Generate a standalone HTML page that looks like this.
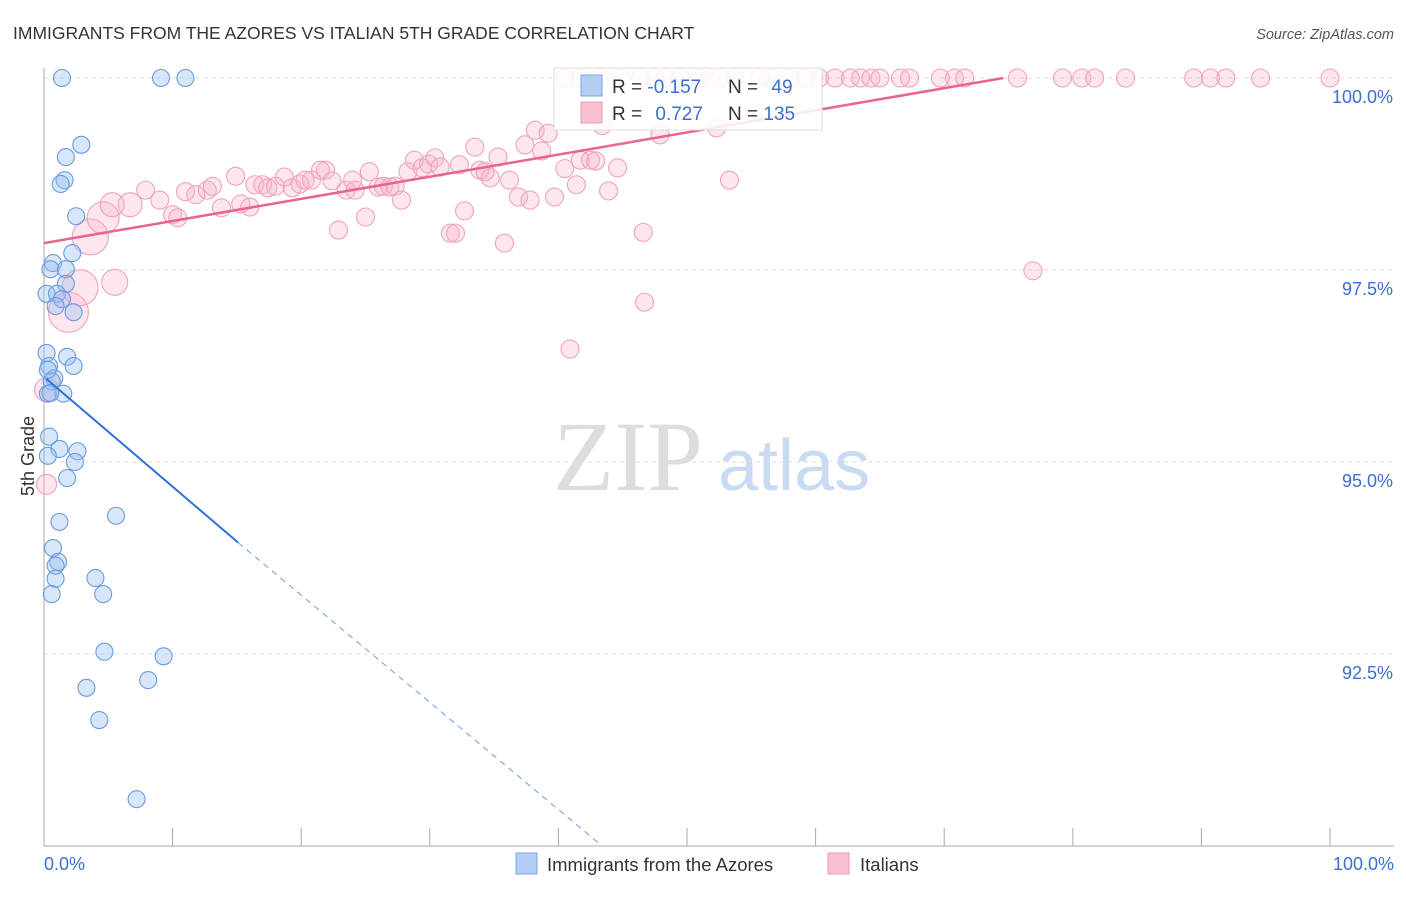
<!DOCTYPE html>
<html><head><meta charset="utf-8"><style>
body{margin:0;background:#fff;font-family:"Liberation Sans",sans-serif;}
svg text{font-family:"Liberation Sans",sans-serif;}
</style></head><body>
<svg id="c" width="1406" height="892">
<text x="13" y="39" font-size="17.5" fill="#333">IMMIGRANTS FROM THE AZORES VS ITALIAN 5TH GRADE CORRELATION CHART</text>
<text x="1394" y="39" font-size="14.5" fill="#555" font-style="italic" text-anchor="end">Source: ZipAtlas.com</text>
<text x="0" y="0" font-size="18" fill="#333" transform="translate(34,456) rotate(-90)" text-anchor="middle">5th Grade</text>
<g>
<text x="553" y="490" font-size="100" fill="#ddd" style="font-family:'Liberation Serif',serif">ZIP</text>
<text x="718" y="490" font-size="72" fill="#c9daf3">atlas</text>
</g>
<g id="grid"></g>
<g id="axes"></g>
<g id="pts"></g>
<g id="trend"></g>
<g>
<rect x="554" y="68" width="268" height="62" fill="#fff" fill-opacity="0.85" stroke="#ddd"/>
<rect x="581" y="75" width="21" height="21" fill="#b4cdf3" stroke="#7aa5e3"/>
<rect x="581" y="102" width="21" height="21" fill="#f8c1d2" stroke="#eb9bb5"/>
<text x="612" y="93" font-size="19" fill="#333">R = <tspan fill="#3b6fd1">-0.157</tspan></text>
<text x="728" y="93" font-size="19" fill="#333">N = <tspan fill="#3b6fd1" dx="8">49</tspan></text>
<text x="612" y="120" font-size="19" fill="#333">R = <tspan fill="#3b6fd1" dx="8">0.727</tspan></text>
<text x="728" y="120" font-size="19" fill="#333">N = <tspan fill="#3b6fd1">135</tspan></text>
</g>
<g>
<rect x="516" y="853" width="21" height="21" fill="#b4cdf3" stroke="#7aa5e3"/>
<text x="547" y="871" font-size="18.5" fill="#333">Immigrants from the Azores</text>
<rect x="828" y="853" width="21" height="21" fill="#f8c1d2" stroke="#eb9bb5"/>
<text x="860" y="871" font-size="18.5" fill="#333">Italians</text>
</g>
</svg>
<script>
const yTicks=[100,97.5,95,92.5];
const yTickLabels=["100.0%","97.5%","95.0%","92.5%"];
const xTickVals=[0,10,20,30,40,50,60,70,80,90,100];
const xEndLabels=["0.0%","100.0%"];
const azoresX=[1.4,9.1,11.0,2.9,1.7,1.6,1.3,2.5,2.2,0.7,0.5,1.7,1.7,0.2,1.0,1.4,0.9,2.3,0.2,1.8,0.4,2.3,0.8,0.6,0.3,1.5,0.4,1.2,2.6,0.3,2.4,1.8,1.2,5.6,0.7,1.1,0.9,0.9,4.0,0.6,4.6,4.7,9.3,3.3,8.1,4.3,7.2,0.3,0.5];
const azoresY=[100,100,100,99.13,98.97,98.67,98.62,98.2,97.72,97.59,97.51,97.51,97.32,97.19,97.19,97.12,97.03,96.95,96.42,96.37,96.25,96.25,96.09,96.05,95.89,95.89,95.33,95.17,95.14,95.08,95.0,94.79,94.22,94.3,93.88,93.7,93.65,93.48,93.49,93.28,93.28,92.53,92.47,92.06,92.16,91.64,90.61,96.2,95.9];
const italX=[1.9,2.8,3.6,4.6,5.5,0.2,0.2,6.7,5.3,
7.9,9.0,10.0,10.4,11.0,11.8,12.7,13.1,13.8,14.9,15.3,16.0,16.4,17.0,17.4,18.0,18.7,19.3,19.9,20.3,20.8,21.5,21.9,22.4,22.9,23.5,24.0,24.2,25.0,25.3,26.0,26.4,26.9,27.3,27.8,28.3,28.8,29.4,29.9,30.4,30.8,31.6,32.0,32.3,32.7,33.5,33.9,34.3,34.7,35.3,35.8,36.2,36.9,37.4,37.8,38.2,38.7,39.2,39.7,40.5,40.9,41.4,41.7,42.5,42.9,43.4,43.9,44.6,46.6,46.7,47.9,52.3,53.3,76.9,
40.5,41.7,43.2,44.8,46.4,47.5,48.3,49.5,51.0,51.8,52.6,53.7,55.7,56.5,58.0,59.2,60.3,61.5,62.7,63.5,64.3,65.0,66.6,67.3,69.7,70.8,71.6,75.7,79.2,80.7,81.7,84.1,89.4,90.7,91.9,94.6,100];
const italY=[96.95,97.27,97.93,98.18,97.34,95.94,94.71,98.35,98.35,
98.54,98.41,98.22,98.18,98.52,98.48,98.54,98.59,98.31,98.72,98.36,98.32,98.61,98.61,98.57,98.59,98.71,98.57,98.62,98.67,98.67,98.80,98.80,98.66,98.02,98.54,98.67,98.54,98.19,98.78,98.58,98.59,98.58,98.59,98.41,98.78,98.93,98.83,98.88,98.96,98.84,97.98,97.98,98.87,98.27,99.10,98.80,98.78,98.70,98.97,97.85,98.67,98.45,99.13,98.41,99.32,99.05,99.28,98.45,98.82,96.47,98.61,98.93,98.93,98.92,99.38,98.53,98.83,97.99,97.08,99.26,99.35,98.67,97.49,
100,100,100,100,100,100,100,100,100,100,100,100,100,100,100,100,100,100,100,100,100,100,100,100,100,100,100,100,100,100,100,100,100,100,100,100,100];
const italBigSize=[20,18,18,16,13,12,10,12,12];
const azTrend=[[0.2,96.08],[15.1,93.95]];
const azTrendDash=[[15.1,93.95],[43.4,90.0]];
const itTrend=[[0,97.85],[74.6,100]];

const NS="http://www.w3.org/2000/svg";
const X=v=>44+v*12.86;
const Y=v=>78+(100-v)*76.8;
function mk(t,a,p){const e=document.createElementNS(NS,t);for(const k in a)e.setAttribute(k,a[k]);p.appendChild(e);return e;}
const grid=document.getElementById('grid'),axes=document.getElementById('axes'),pts=document.getElementById('pts'),tr=document.getElementById('trend');
yTicks.forEach((v,i)=>{
 const l=mk('line',{x1:44,x2:1394,y1:Y(v),y2:Y(v),stroke:'#ddd','stroke-dasharray':'4 4'},grid);
 
 
 const t=mk('text',{x:1393,y:Y(v)+25,'font-size':18,fill:'#3b6fd1','text-anchor':'end'},axes);
 t.textContent=yTickLabels[i];
 
 
});
const ya=mk('line',{x1:44,x2:44,y1:68,y2:846,stroke:'#aaa'},axes);


const xa=mk('line',{x1:44,x2:1394,y1:846,y2:846,stroke:'#aaa'},axes);


xTickVals.forEach(v=>{
 const t=mk('line',{x1:X(v),x2:X(v),y1:828,y2:846,stroke:'#aaa'},axes);
 
 
});
const xl0=mk('text',{x:44,y:870,'font-size':18,fill:'#3b6fd1'},axes);xl0.textContent=xEndLabels[0];


const xl1=mk('text',{x:1394,y:870,'font-size':18,fill:'#3b6fd1','text-anchor':'end'},axes);xl1.textContent=xEndLabels[1];


italX.forEach((v,i)=>{
 const r=i<italBigSize.length?italBigSize[i]:9;
 const c=mk('circle',{cx:X(v),cy:Y(italY[i]),r:r,fill:'rgba(248,178,200,0.33)',stroke:'#eea3bc','stroke-width':1.1},pts);
 
 
});
azoresX.forEach((v,i)=>{
 const c=mk('circle',{cx:X(v),cy:Y(azoresY[i]),r:8.5,fill:'rgba(150,190,240,0.38)',stroke:'#6a9be0','stroke-width':1.1},pts);
 
 
});
const l1=mk('line',{x1:X(itTrend[0][0]),y1:Y(itTrend[0][1]),x2:X(itTrend[1][0]),y2:Y(itTrend[1][1]),stroke:'#e8648f','stroke-width':2.5},tr);


const l2=mk('line',{x1:X(azTrend[0][0]),y1:Y(azTrend[0][1]),x2:X(azTrend[1][0]),y2:Y(azTrend[1][1]),stroke:'#2f72d8','stroke-width':2},tr);


const l3=mk('line',{x1:X(azTrendDash[0][0]),y1:Y(azTrendDash[0][1]),x2:X(azTrendDash[1][0]),y2:Y(azTrendDash[1][1]),stroke:'#6d9be0','stroke-width':1,'stroke-dasharray':'6 5'},tr);


</script>
</body></html>
